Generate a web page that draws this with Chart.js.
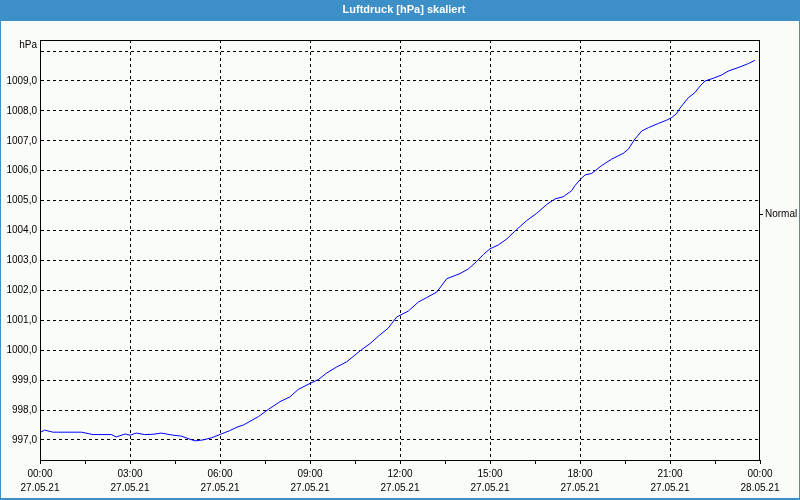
<!DOCTYPE html>
<html>
<head>
<meta charset="utf-8">
<script src="https://cdn.jsdelivr.net/npm/chart.js@4.4.1/dist/chart.umd.min.js"></script>
<style>
  html, body { margin: 0; padding: 0; background: #fafcfa; }
  #wrap { width: 800px; height: 500px; position: relative; }
</style>
</head>
<body>
<div id="wrap"><canvas id="c" width="800" height="500"></canvas></div>
<script>
// Time of day in hours since 27.05.21 00:00
const hours = [0.02, 0.16, 0.43, 1.38, 1.77, 2.38, 2.54, 2.84, 3.0, 3.21, 3.49, 3.77, 4.04, 4.21, 4.43, 4.71, 4.93, 5.16, 5.43, 5.71,
  6.02, 6.32, 6.6, 6.78, 7.28, 7.61, 8.0, 8.33, 8.61, 9.0, 9.28, 9.56, 9.89, 10.22, 10.72, 11.0, 11.28, 11.61, 11.72, 11.89,
  12.28, 12.61, 12.89, 13.22, 13.56, 14.0, 14.28, 14.56, 14.78, 15.0, 15.28, 15.56, 15.83, 16.22, 16.56, 16.89, 17.17, 17.44, 17.72, 17.83,
  18.02, 18.17, 18.39, 18.72, 19.06, 19.44, 19.61, 19.83, 20.06, 20.28, 20.61, 20.89, 21.06, 21.22, 21.33, 21.61, 21.83, 22.0, 22.17, 22.44,
  22.72, 22.94, 23.33, 23.61, 23.83];
const pressure = [997.26, 997.33, 997.26, 997.26, 997.18, 997.18, 997.10, 997.20, 997.16, 997.23, 997.18, 997.19, 997.23, 997.20, 997.16, 997.13, 997.05, 996.97, 997.00, 997.07,
  997.19, 997.31, 997.44, 997.50, 997.78, 998.02, 998.28, 998.44, 998.69, 998.89, 999.02, 999.24, 999.44, 999.61, 1000.02, 1000.22, 1000.47, 1000.74, 1000.89, 1001.11,
  1001.31, 1001.61, 1001.76, 1001.94, 1002.39, 1002.56, 1002.72, 1002.97, 1003.20, 1003.39, 1003.52, 1003.72, 1003.98, 1004.33, 1004.58, 1004.87, 1005.06, 1005.13, 1005.33, 1005.50,
  1005.72, 1005.86, 1005.91, 1006.17, 1006.39, 1006.58, 1006.72, 1007.06, 1007.33, 1007.44, 1007.58, 1007.69, 1007.78, 1007.91, 1008.09, 1008.44, 1008.61, 1008.83, 1009.00, 1009.09,
  1009.20, 1009.33, 1009.47, 1009.58, 1009.69];
const yTicks = [997, 998, 999, 1000, 1001, 1002, 1003, 1004, 1005, 1006, 1007, 1008, 1009, 1010];
const xTickHours = [0, 3, 6, 9, 12, 15, 18, 21, 24];
const xTimeLabels = ['00:00', '03:00', '06:00', '09:00', '12:00', '15:00', '18:00', '21:00', '00:00'];
const xDateLabels = ['27.05.21', '27.05.21', '27.05.21', '27.05.21', '27.05.21', '27.05.21', '27.05.21', '27.05.21', '28.05.21'];
const titleText = 'Luftdruck [hPa] skaliert';
const unitText = 'hPa';
const seriesName = 'Normal';

const FONT = 'Liberation Sans, Arial, sans-serif';
const BLUE = '#3c8fc7';

const frame = {
  id: 'frame',
  beforeDraw(chart) {
    const ctx = chart.ctx;
    ctx.save();
    ctx.fillStyle = '#fafcfa';
    ctx.fillRect(0, 0, 800, 500);
    ctx.fillStyle = BLUE;
    ctx.fillRect(0, 0, 800, 21);
    ctx.fillRect(0, 0, 1, 500);
    ctx.fillRect(799, 0, 1, 500);
    ctx.fillRect(0, 498, 800, 2);
    ctx.fillStyle = '#ffffff';
    ctx.font = 'bold 11px ' + FONT;
    ctx.textAlign = 'center';
    ctx.textBaseline = 'middle';
    ctx.fillText(titleText, 404, 10);
    ctx.restore();
  },
  afterDraw(chart) {
    const ctx = chart.ctx;
    const a = chart.chartArea;
    ctx.save();
    ctx.strokeStyle = '#000';
    ctx.lineWidth = 1;
    ctx.strokeRect(Math.round(a.left) + 0.5, Math.round(a.top) + 0.5, Math.round(a.right - a.left) - 1, Math.round(a.bottom - a.top));
    ctx.fillStyle = '#000';
    ctx.font = '10px ' + FONT;
    ctx.textAlign = 'right';
    ctx.textBaseline = 'middle';
    ctx.fillText(unitText, 37, 45);
    ctx.textAlign = 'left';
    ctx.fillText(seriesName, 765, 214);
    ctx.beginPath();
    ctx.moveTo(760, 214.5);
    ctx.lineTo(763, 214.5);
    ctx.stroke();
    ctx.restore();
  }
};

new Chart(document.getElementById('c'), {
  type: 'line',
  data: {
    datasets: [{
      label: seriesName,
      data: hours.map((h, i) => ({ x: h, y: pressure[i] })),
      borderColor: '#0000ff',
      borderWidth: 1,
      pointRadius: 0,
      tension: 0,
      fill: false
    }]
  },
  options: {
    responsive: false,
    animation: false,
    layout: { padding: { top: 40, right: 40, left: 0, bottom: 0 } },
    plugins: { legend: { display: false }, title: { display: false }, tooltip: { enabled: false } },
    scales: {
      x: {
        type: 'linear',
        min: 0,
        max: 24,
        afterBuildTicks(scale) {
          const t = [];
          for (let v = 0; v <= 24; v += 1.5) t.push({ value: v });
          scale.ticks = t;
        },
        afterFit(scale) { scale.height = 40; },
        ticks: {
          autoSkip: false,
          maxRotation: 0,
          padding: 3,
          color: '#000',
          font: { family: FONT, size: 10, lineHeight: 1.4 },
          callback(v) {
            const i = xTickHours.indexOf(v);
            return i >= 0 ? [xTimeLabels[i], xDateLabels[i]] : '';
          }
        },
        grid: {
          color: (c) => (c.tick && c.tick.value % 3 === 0 && c.tick.value > 0 && c.tick.value < 24) ? '#000' : 'rgba(0,0,0,0)',
          tickColor: '#000',
          tickLength: 4,
          lineWidth: 1
        },
        border: { display: true, color: '#000', width: 1, dash: [3, 3] }
      },
      y: {
        type: 'linear',
        min: 996.33,
        max: 1010.37,
        afterBuildTicks(scale) { scale.ticks = yTicks.map(v => ({ value: v })); },
        afterFit(scale) { scale.width = 40; },
        ticks: {
          padding: 3,
          color: '#000',
          font: { family: FONT, size: 10 },
          callback(v) { return v === 1010 ? '' : v.toFixed(1).replace('.', ','); }
        },
        grid: { color: '#000', drawTicks: false, lineWidth: 1 },
        border: { display: true, color: '#000', width: 1, dash: [3, 3] }
      }
    }
  },
  plugins: [frame]
});
</script>
</body>
</html>
